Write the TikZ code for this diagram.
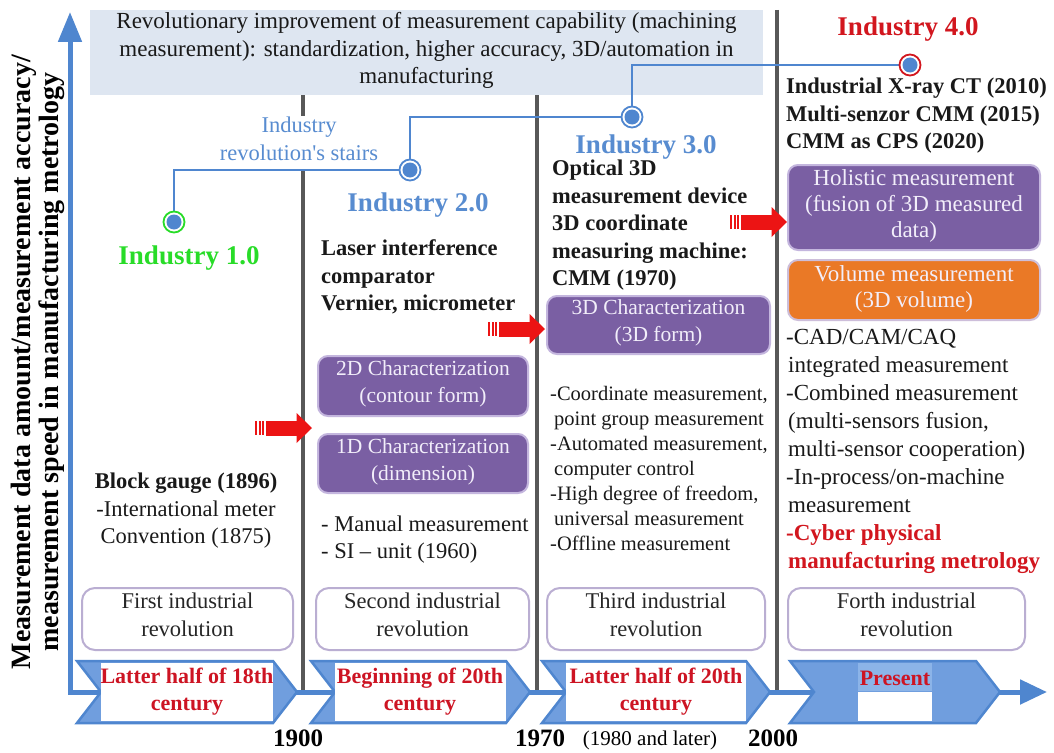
\documentclass[tikz,border=0pt]{standalone}
\usepackage{fontspec}
\setmainfont{Liberation Serif}
\newfontfamily\plainserif[Ligatures=TeXOff]{Liberation Serif}
\usetikzlibrary{arrows.meta}
\newcommand{\fsz}[2]{\fontsize{#1}{#2}\selectfont}
\definecolor{axisblue}{RGB}{79,134,207}
\definecolor{chevfill}{RGB}{112,158,222}
\definecolor{chevlight}{RGB}{140,180,232}
\definecolor{lblblue}{RGB}{88,140,208}
\definecolor{indgreen}{RGB}{40,220,40}
\definecolor{indred}{RGB}{210,22,30}
\definecolor{chevred}{RGB}{205,20,35}
\definecolor{purp}{RGB}{122,95,163}
\definecolor{purpedge}{RGB}{196,182,222}
\definecolor{orng}{RGB}{234,121,38}
\definecolor{orngedge}{RGB}{205,190,218}
\definecolor{revedge}{RGB}{186,174,210}
\definecolor{boxtext}{RGB}{242,238,250}
\definecolor{divgray}{RGB}{88,88,88}
\definecolor{topfill}{RGB}{222,230,241}
\definecolor{arrred}{RGB}{236,20,20}
\newcommand{\chevron}[2]{%
  \draw[chev] (#1,661) -- (#2-24,661) -- (#2,692) -- (#2-24,723) -- (#1,723) -- (#1+24,692) -- cycle;}
\newcommand{\chevwhite}[2]{\fill[white] (#1+24,663.3) rectangle (#2-24,720.7);}
\newcommand{\redarrow}[3]{%
  \fill[arrred] (#1,#2-7) rectangle (#1+2.2,#2+7);
  \fill[arrred] (#1+3.6,#2-7) rectangle (#1+5.8,#2+7);
  \fill[arrred] (#1+7.2,#2-7) rectangle (#1+9.4,#2+7);
  \fill[arrred] (#1+10.8,#2-7.5) rectangle (#3-15,#2+7.5);
  \fill[arrred] (#3-15.5,#2-15) -- (#3,#2) -- (#3-15.5,#2+15) -- cycle;}
\begin{document}
\begin{tikzpicture}[x=1pt,y=-1pt,
  txt/.style={inner sep=0pt, execute at begin node=\strut, execute at end node=\strut},
  blk/.style={txt, align=left, anchor=west, text=black!90},
  pbox/.style={txt, rectangle, rounded corners=10pt, fill=purp, draw=purpedge, line width=2pt, text=boxtext, align=center},
  rbox/.style={txt, rectangle, rounded corners=13pt, fill=white, draw=revedge, line width=2pt, align=center, text=black!85, minimum height=62pt, font=\fsz{22.5}{27.5}},
  dot/.style={circle, minimum size=21pt, line width=1.8pt, fill=white, path picture={\fill[axisblue] (path picture bounding box.center) circle (7.5pt);}},
  divider/.style={draw=divgray, line width=4.5pt},
  chev/.style={fill=chevfill, draw=axisblue, line width=2.5pt, line join=miter},
  chevtxt/.style={txt, align=center, text=chevred, font=\fsz{22}{27}\bfseries},
  yr/.style={txt, font=\fsz{25}{30}\bfseries},
  stair/.style={draw=axisblue, line width=2pt},
  indlbl/.style={txt, font=\fsz{27}{32}\bfseries}
]
\useasboundingbox (0,0) rectangle (1054,752);
\fill[white] (0,0) rectangle (1054,752);

% top box
\node[txt, fill=topfill, minimum width=673pt, minimum height=85pt, align=center, text=black!90, font=\fsz{23}{27.5}] (topbox) at (426.5,52.5)
  {Revolutionary improvement of measurement capability (machining\\measurement): standardization, higher accuracy, 3D/automation in\\manufacturing};

% dividers
\coordinate (d1t) at (303,95);  \coordinate (d1b) at (303,692);
\coordinate (d2t) at (537,95);  \coordinate (d2b) at (537,692);
\coordinate (d3t) at (777,10);  \coordinate (d3b) at (777,692);
\draw[divider] (d1t) -- (d1b);
\draw[divider] (d2t) -- (d2b);
\draw[divider] (d3t) -- (d3b);

% axes
\coordinate (ytip) at (70,12);
\coordinate (origin) at (70,692);
\coordinate (xtip) at (1047,692);
\draw[axisblue, line width=5pt, line join=miter, {Triangle[width=23pt,length=30pt]}-{Triangle[width=24pt,length=27pt]}] (ytip) -- (origin) -- (xtip);

% y label
\node[txt, rotate=90, align=center, text=black, font=\fsz{28}{28}\bfseries] (ylab) at (39,362)
  {Measurement data amount/measurement accuracy/\\measurement speed in manufacturing metrology};

% chevrons
\chevron{77}{297}\chevwhite{77}{297}
\chevron{311}{530}\chevwhite{311}{530}
\chevron{542}{770}\chevwhite{542}{770}
\chevron{790}{1000}
\fill[chevlight] (858,663.3) rectangle (932,690.5);
\fill[white] (858,692) rectangle (932,720.7);
\node[chevtxt] (ch1) at (187,693.5) {Latter half of 18th\\century};
\node[chevtxt] (ch2) at (420,693.5) {Beginning of 20th\\century};
\node[chevtxt] (ch3) at (656,693.5) {Latter half of 20th\\century};
\node[chevtxt] (ch4) at (895,680) {Present};

% years
\node[yr] (y1900) at (298,740) {1900};
\node[yr] (y1970) at (540,740) {1970};
\node[txt, font=\fsz{21}{25}] (y1980) at (650,740) {(1980 and later)};
\node[yr] (y2000) at (773,740) {2000};

% revolution boxes
\node[rbox, minimum width=211pt] (rev1) at (187.5,619) {First industrial\\revolution};
\node[rbox, minimum width=213pt] (rev2) at (422.5,619) {Second industrial\\revolution};
\node[rbox, minimum width=218pt] (rev3) at (656,619) {Third industrial\\revolution};
\node[rbox, minimum width=237pt] (rev4) at (906.5,619) {Forth industrial\\revolution};

% stairs
\coordinate (p1) at (174,222);
\coordinate (p2) at (410,170);
\coordinate (p3) at (632,117);
\coordinate (p4) at (910,65);
\node[txt, fill=white, align=center, text=lblblue, font=\fsz{22.5}{27.5}, inner xsep=2pt, inner ysep=1pt] (stairlbl) at (299,143) {Industry\\revolution{\plainserif '}s stairs};
\draw[stair] (p1) |- (p2);
\draw[stair] (p2) |- (p3);
\draw[stair] (p3) |- (p4);
\node[dot, draw=indgreen] (c1) at (p1) {};
\node[dot, draw=axisblue] (c2) at (p2) {};
\node[dot, draw=axisblue] (c3) at (p3) {};
\node[dot, draw=indred] (c4) at (p4) {};

\node[indlbl, text=indgreen] (i1) at (189,258) {Industry 1.0};
\node[indlbl, text=lblblue] (i2) at (418,205.5) {Industry 2.0};
\node[indlbl, text=lblblue] (i3) at (646,147.5) {Industry 3.0};
\node[indlbl, text=indred] (i4) at (908,29.5) {Industry 4.0};

% text blocks
\node[txt, align=center, text=black!90, font=\fsz{22.5}{27.5}] (t1) at (186,512.5)
  {\textbf{Block gauge (1896)}\\-International meter\\Convention (1875)};
\node[blk, font=\fsz{22.5}{27.5}\bfseries] (t2a) at (321,279.5)
  {Laser interference\\comparator\\Vernier, micrometer};
\node[blk, font=\fsz{22.5}{27.5}] (t2b) at (321,541.5)
  {- Manual measurement\\- SI -- unit (1960)};
\node[blk, font=\fsz{22.5}{27.5}\bfseries] (t3a) at (552,227)
  {Optical 3D\\measurement device\\3D coordinate\\measuring machine:\\CMM (1970)};
\node[blk, font=\fsz{20.5}{25}] (t3b) at (550,472)
  {-Coordinate measurement,\\\hspace*{4pt}point group measurement\\-Automated measurement,\\\hspace*{4pt}computer control\\-High degree of freedom,\\\hspace*{4pt}universal measurement\\-Offline measurement};
\node[blk, font=\fsz{22.5}{27.5}\bfseries] (t4a) at (786,117.5)
  {Industrial X-ray CT (2010)\\Multi-senzor CMM (2015)\\CMM as CPS (2020)};
\node[blk, font=\fsz{23}{28}] (t4b) at (786,453.5)
  {-CAD/CAM/CAQ\\\hspace*{2pt}integrated measurement\\-Combined measurement\\\hspace*{2pt}(multi-sensors fusion,\\\hspace*{2pt}multi-sensor cooperation)\\-In-process/on-machine\\\hspace*{2pt}measurement\\\textcolor{indred}{\textbf{-Cyber physical}}\\\textcolor{indred}{\textbf{\hspace*{2pt}manufacturing metrology}}};

% characterization boxes
\node[pbox, minimum width=210pt, minimum height=60pt, font=\fsz{21.5}{27}] (b2d) at (423,386) {2D Characterization\\(contour form)};
\node[pbox, minimum width=210pt, minimum height=59pt, font=\fsz{21.5}{27}] (b1d) at (423,463.5) {1D Characterization\\(dimension)};
\node[pbox, minimum width=223pt, minimum height=58pt, font=\fsz{21.5}{27}] (b3d) at (658.5,325) {3D Characterization\\(3D form)};
\node[pbox, minimum width=252pt, minimum height=85pt, font=\fsz{23}{26}] (bhol) at (914,207.5) {Holistic measurement\\(fusion of 3D measured\\data)};
\node[pbox, fill=orng, draw=orngedge, minimum width=252pt, minimum height=60pt, font=\fsz{23}{26}] (bvol) at (914,290) {Volume measurement\\(3D volume)};

% red arrows
\redarrow{255}{428}{312}
\redarrow{488}{329}{545}
\redarrow{730}{222}{787}
\end{tikzpicture}
\end{document}
